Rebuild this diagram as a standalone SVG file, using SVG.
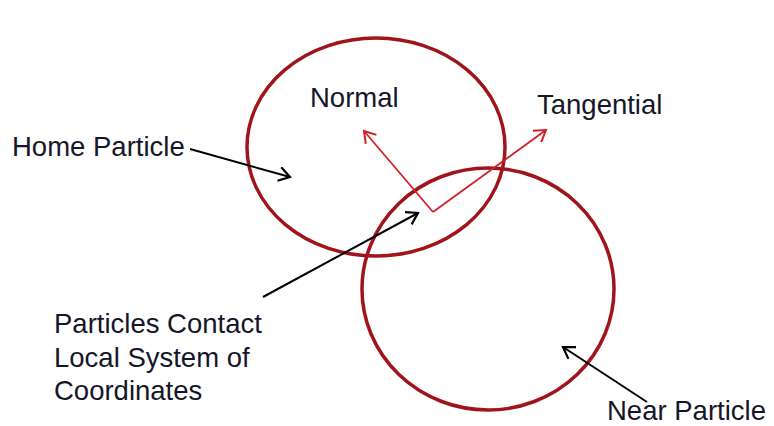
<svg xmlns="http://www.w3.org/2000/svg" width="774" height="426" viewBox="0 0 774 426">
<style>
.p{fill:none;stroke:#a0141c;stroke-width:3.5}
.ax{fill:none;stroke:#d0202a;stroke-width:1.8}
.c{fill:none;stroke:#000;stroke-width:2}
text{font-family:"Liberation Sans",Arial,sans-serif;font-size:27.5px;fill:#16162a}
</style>
<defs>
<marker id="ra" markerWidth="16" markerHeight="16" viewBox="0 0 16 16" refX="14" refY="8" orient="auto" markerUnits="userSpaceOnUse"><path d="M3,1 L14,8 L3,15" fill="none" stroke="#d0202a" stroke-width="2"/></marker>
<marker id="ba" markerWidth="16" markerHeight="16" viewBox="0 0 16 16" refX="14" refY="8" orient="auto" markerUnits="userSpaceOnUse"><path d="M3,1 L14,8 L3,15" fill="none" stroke="#000" stroke-width="2.2"/></marker>
</defs>
<rect width="774" height="426" fill="#fff"/>
<g id="home-particle"><ellipse class="p" cx="376" cy="147" rx="129" ry="109"/></g>
<g id="near-particle"><ellipse class="p" cx="488" cy="289" rx="126" ry="121"/></g>
<g id="local-axes">
<line class="ax" x1="433" y1="212" x2="364" y2="131" marker-end="url(#ra)"/>
<line class="ax" x1="433" y1="212" x2="546" y2="130" marker-end="url(#ra)"/>
</g>
<g id="labels">
<text x="310" y="107">Normal</text>
<text x="537" y="114">Tangential</text>
<text x="12" y="156">Home Particle</text>
<text x="54" y="333">Particles Contact</text>
<text x="54" y="367">Local System of</text>
<text x="54" y="400">Coordinates</text>
<text x="607" y="420">Near Particle</text>
</g>
<g id="connectors">
<line class="c" x1="190" y1="149" x2="290" y2="177" marker-end="url(#ba)"/>
<line class="c" x1="263" y1="297" x2="418" y2="213" marker-end="url(#ba)"/>
<line class="c" x1="647" y1="402" x2="563" y2="347" marker-end="url(#ba)"/>
</g>
</svg>
